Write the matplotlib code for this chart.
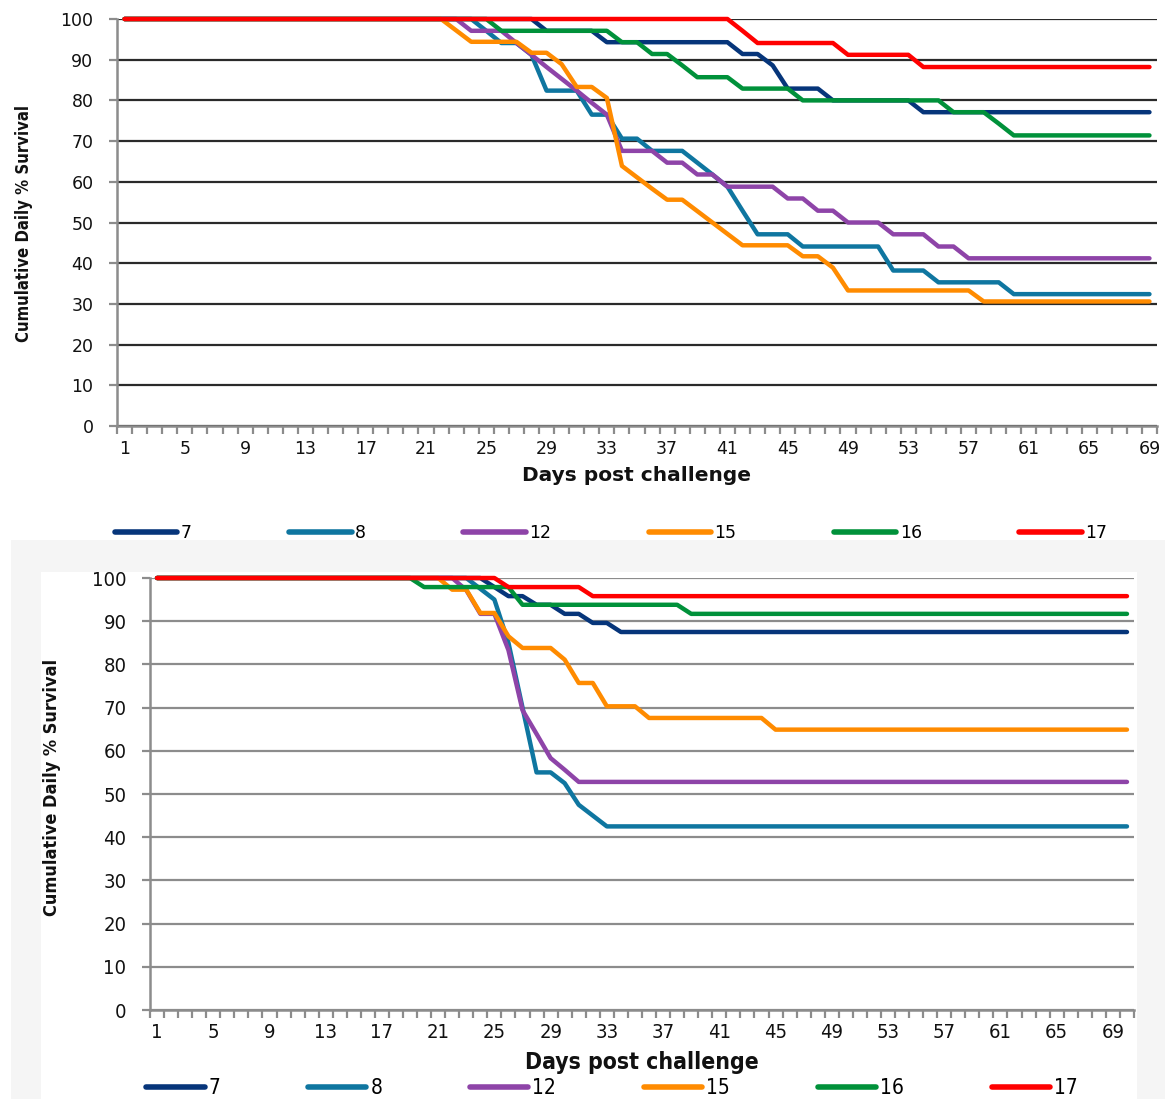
import matplotlib
matplotlib.use('Agg')
import matplotlib.pyplot as plt
from matplotlib.patches import Rectangle
from matplotlib.lines import Line2D

W, H = 1171, 1099
DPI = 100

groups = ['7', '8', '12', '15', '16', '17']
colors = ['#06357a', '#0f76a0', '#8e44a8', '#ff8b00', '#00913a', '#ff0000']

days_top = list(range(1, 70))
days_bot = list(range(1, 71))
tick_days = [1, 5, 9, 13, 17, 21, 25, 29, 33, 37, 41, 45, 49, 53, 57, 61, 65, 69]
tick_labels = [str(d) for d in tick_days]
y_ticks = [0, 10, 20, 30, 40, 50, 60, 70, 80, 90, 100]

# ---------------- top chart (69 days) ----------------
s7_top = [100, 100, 100, 100, 100, 100, 100, 100, 100, 100,
          100, 100, 100, 100, 100, 100, 100, 100, 100, 100,
          100, 100, 100, 100, 100, 100, 100, 100, 97.1, 97.1,
          97.1, 97.1, 94.3, 94.3, 94.3, 94.3, 94.3, 94.3, 94.3, 94.3,
          94.3, 91.4, 91.4, 88.6, 82.9, 82.9, 82.9, 80.0, 80.0, 80.0,
          80.0, 80.0, 80.0, 77.1, 77.1, 77.1, 77.1, 77.1, 77.1, 77.1,
          77.1, 77.1, 77.1, 77.1, 77.1, 77.1, 77.1, 77.1, 77.1]
s8_top = [100, 100, 100, 100, 100, 100, 100, 100, 100, 100,
          100, 100, 100, 100, 100, 100, 100, 100, 100, 100,
          100, 100, 100, 100, 97.1, 94.1, 94.1, 91.2, 82.4, 82.4,
          82.4, 76.5, 76.5, 70.6, 70.6, 67.6, 67.6, 67.6, 64.7, 61.8,
          58.8, 52.9, 47.1, 47.1, 47.1, 44.1, 44.1, 44.1, 44.1, 44.1,
          44.1, 38.2, 38.2, 38.2, 35.3, 35.3, 35.3, 35.3, 35.3, 32.4,
          32.4, 32.4, 32.4, 32.4, 32.4, 32.4, 32.4, 32.4, 32.4]
s12_top = [100, 100, 100, 100, 100, 100, 100, 100, 100, 100,
           100, 100, 100, 100, 100, 100, 100, 100, 100, 100,
           100, 100, 100, 97.1, 97.1, 97.1, 94.1, 91.2, 88.2, 85.3,
           82.4, 79.4, 76.5, 67.6, 67.6, 67.6, 64.7, 64.7, 61.8, 61.8,
           58.8, 58.8, 58.8, 58.8, 55.9, 55.9, 52.9, 52.9, 50.0, 50.0,
           50.0, 47.1, 47.1, 47.1, 44.1, 44.1, 41.2, 41.2, 41.2, 41.2,
           41.2, 41.2, 41.2, 41.2, 41.2, 41.2, 41.2, 41.2, 41.2]
s15_top = [100, 100, 100, 100, 100, 100, 100, 100, 100, 100,
           100, 100, 100, 100, 100, 100, 100, 100, 100, 100,
           100, 100, 97.2, 94.4, 94.4, 94.4, 94.4, 91.7, 91.7, 88.9,
           83.3, 83.3, 80.6, 63.9, 61.1, 58.3, 55.6, 55.6, 52.8, 50.0,
           47.2, 44.4, 44.4, 44.4, 44.4, 41.7, 41.7, 38.9, 33.3, 33.3,
           33.3, 33.3, 33.3, 33.3, 33.3, 33.3, 33.3, 30.6, 30.6, 30.6,
           30.6, 30.6, 30.6, 30.6, 30.6, 30.6, 30.6, 30.6, 30.6]
s16_top = [100, 100, 100, 100, 100, 100, 100, 100, 100, 100,
           100, 100, 100, 100, 100, 100, 100, 100, 100, 100,
           100, 100, 100, 100, 100, 97.1, 97.1, 97.1, 97.1, 97.1,
           97.1, 97.1, 97.1, 94.3, 94.3, 91.4, 91.4, 88.6, 85.7, 85.7,
           85.7, 82.9, 82.9, 82.9, 82.9, 80.0, 80.0, 80.0, 80.0, 80.0,
           80.0, 80.0, 80.0, 80.0, 80.0, 77.1, 77.1, 77.1, 74.3, 71.4,
           71.4, 71.4, 71.4, 71.4, 71.4, 71.4, 71.4, 71.4, 71.4]
s17_top = [100, 100, 100, 100, 100, 100, 100, 100, 100, 100,
           100, 100, 100, 100, 100, 100, 100, 100, 100, 100,
           100, 100, 100, 100, 100, 100, 100, 100, 100, 100,
           100, 100, 100, 100, 100, 100, 100, 100, 100, 100,
           100, 97.1, 94.1, 94.1, 94.1, 94.1, 94.1, 94.1, 91.2, 91.2,
           91.2, 91.2, 91.2, 88.2, 88.2, 88.2, 88.2, 88.2, 88.2, 88.2,
           88.2, 88.2, 88.2, 88.2, 88.2, 88.2, 88.2, 88.2, 88.2]

# ---------------- bottom chart (70 days) ----------------
s7_bot = [100, 100, 100, 100, 100, 100, 100, 100, 100, 100,
          100, 100, 100, 100, 100, 100, 100, 100, 100, 100,
          100, 100, 100, 100, 97.9, 95.8, 95.8, 93.8, 93.8, 91.7,
          91.7, 89.6, 89.6, 87.5, 87.5, 87.5, 87.5, 87.5, 87.5, 87.5,
          87.5, 87.5, 87.5, 87.5, 87.5, 87.5, 87.5, 87.5, 87.5, 87.5,
          87.5, 87.5, 87.5, 87.5, 87.5, 87.5, 87.5, 87.5, 87.5, 87.5,
          87.5, 87.5, 87.5, 87.5, 87.5, 87.5, 87.5, 87.5, 87.5, 87.5]
s8_bot = [100, 100, 100, 100, 100, 100, 100, 100, 100, 100,
          100, 100, 100, 100, 100, 100, 100, 100, 100, 100,
          100, 100, 100, 97.5, 95.0, 85.0, 70.0, 55.0, 55.0, 52.5,
          47.5, 45.0, 42.5, 42.5, 42.5, 42.5, 42.5, 42.5, 42.5, 42.5,
          42.5, 42.5, 42.5, 42.5, 42.5, 42.5, 42.5, 42.5, 42.5, 42.5,
          42.5, 42.5, 42.5, 42.5, 42.5, 42.5, 42.5, 42.5, 42.5, 42.5,
          42.5, 42.5, 42.5, 42.5, 42.5, 42.5, 42.5, 42.5, 42.5, 42.5]
s12_bot = [100, 100, 100, 100, 100, 100, 100, 100, 100, 100,
           100, 100, 100, 100, 100, 100, 100, 100, 100, 100,
           100, 100, 97.2, 91.7, 91.7, 83.3, 69.4, 63.9, 58.3, 55.6,
           52.8, 52.8, 52.8, 52.8, 52.8, 52.8, 52.8, 52.8, 52.8, 52.8,
           52.8, 52.8, 52.8, 52.8, 52.8, 52.8, 52.8, 52.8, 52.8, 52.8,
           52.8, 52.8, 52.8, 52.8, 52.8, 52.8, 52.8, 52.8, 52.8, 52.8,
           52.8, 52.8, 52.8, 52.8, 52.8, 52.8, 52.8, 52.8, 52.8, 52.8]
s15_bot = [100, 100, 100, 100, 100, 100, 100, 100, 100, 100,
           100, 100, 100, 100, 100, 100, 100, 100, 100, 100,
           100, 97.3, 97.3, 91.9, 91.9, 86.5, 83.8, 83.8, 83.8, 81.1,
           75.7, 75.7, 70.3, 70.3, 70.3, 67.6, 67.6, 67.6, 67.6, 67.6,
           67.6, 67.6, 67.6, 67.6, 64.9, 64.9, 64.9, 64.9, 64.9, 64.9,
           64.9, 64.9, 64.9, 64.9, 64.9, 64.9, 64.9, 64.9, 64.9, 64.9,
           64.9, 64.9, 64.9, 64.9, 64.9, 64.9, 64.9, 64.9, 64.9, 64.9]
s16_bot = [100, 100, 100, 100, 100, 100, 100, 100, 100, 100,
           100, 100, 100, 100, 100, 100, 100, 100, 100, 97.9,
           97.9, 97.9, 97.9, 97.9, 97.9, 97.9, 93.8, 93.8, 93.8, 93.8,
           93.8, 93.8, 93.8, 93.8, 93.8, 93.8, 93.8, 93.8, 91.7, 91.7,
           91.7, 91.7, 91.7, 91.7, 91.7, 91.7, 91.7, 91.7, 91.7, 91.7,
           91.7, 91.7, 91.7, 91.7, 91.7, 91.7, 91.7, 91.7, 91.7, 91.7,
           91.7, 91.7, 91.7, 91.7, 91.7, 91.7, 91.7, 91.7, 91.7, 91.7]
s17_bot = [100, 100, 100, 100, 100, 100, 100, 100, 100, 100,
           100, 100, 100, 100, 100, 100, 100, 100, 100, 100,
           100, 100, 100, 100, 100, 97.9, 97.9, 97.9, 97.9, 97.9,
           97.9, 95.8, 95.8, 95.8, 95.8, 95.8, 95.8, 95.8, 95.8, 95.8,
           95.8, 95.8, 95.8, 95.8, 95.8, 95.8, 95.8, 95.8, 95.8, 95.8,
           95.8, 95.8, 95.8, 95.8, 95.8, 95.8, 95.8, 95.8, 95.8, 95.8,
           95.8, 95.8, 95.8, 95.8, 95.8, 95.8, 95.8, 95.8, 95.8, 95.8]

top_series = [s7_top, s8_top, s12_top, s15_top, s16_top, s17_top]
bot_series = [s7_bot, s8_bot, s12_bot, s15_bot, s16_bot, s17_bot]

NARROW_BOLD = dict(family='DejaVu Sans', fontstretch='condensed',
                   fontweight='bold')

fig = plt.figure(figsize=(W / DPI, H / DPI), dpi=DPI)
fig.patch.set_facecolor('white')


def rect_px(x0, y0, x1, y1):
    return [x0 / W, 1 - y1 / H, (x1 - x0) / W, (y1 - y0) / H]


def style_axes(ax, days, grid_color, fs, xpad, ypad, stretch):
    n = len(days)
    ax.set_xlim(0.5, n + 0.5)
    ax.set_ylim(0, 100)
    ax.set_yticks(y_ticks)
    ax.set_yticklabels([str(v) for v in y_ticks])
    ax.set_xticks(tick_days)
    ax.set_xticklabels(tick_labels)
    ax.set_xticks([d - 0.5 for d in days] + [n + 0.5], minor=True)
    ax.yaxis.grid(True, color=grid_color, lw=1.6)
    ax.set_axisbelow(True)
    for s in ['top', 'right']:
        ax.spines[s].set_visible(False)
    for s in ['left', 'bottom']:
        ax.spines[s].set_color('#8c8c8c')
        ax.spines[s].set_linewidth(1.8)
    ax.tick_params(axis='x', which='major', length=0, pad=xpad)
    ax.tick_params(axis='x', which='minor', length=6, width=1.6,
                   color='#8c8c8c', direction='out')
    ax.tick_params(axis='y', which='major', length=6, width=1.6,
                   color='#8c8c8c', direction='out', pad=ypad)
    for lab in ax.get_xticklabels() + ax.get_yticklabels():
        lab.set_family('DejaVu Sans')
        lab.set_fontstretch(stretch)
        lab.set_fontsize(fs)
        lab.set_color('#111111')


# ---- top axes ----
ax1 = fig.add_axes(rect_px(117, 19, 1157, 426))
ax1.set_zorder(0)
style_axes(ax1, days_top, '#2a2a2a', 12.5, 10, 11, 'normal')
for vals, c in zip(top_series, colors):
    ax1.plot(days_top, vals, color=c, lw=3.2, solid_capstyle='round',
             solid_joinstyle='round', clip_on=False, zorder=3)

fig.text(24 / W, 1 - 223 / H, 'Cumulative Daily % Survival', rotation=90,
         ha='center', va='center', fontsize=12, color='#111111',
         zorder=1, **NARROW_BOLD)
fig.text(636 / W, 1 - 475 / H, 'Days post challenge', ha='center',
         va='center', family='DejaVu Sans', fontweight='bold',
         fontsize=14.5, color='#111111', zorder=1)

handles = [Line2D([0], [0], color=c, lw=4, solid_capstyle='round')
           for c in colors]
leg1 = fig.legend(handles, groups, ncol=6, loc='center',
                  bbox_to_anchor=(611 / W, 1 - 533 / H),
                  bbox_transform=fig.transFigure, frameon=False,
                  handlelength=3.6, handletextpad=0.2, columnspacing=5.6,
                  prop={'family': 'DejaVu Sans', 'size': 12.5})
leg1.set_zorder(1)

# ---- bottom panel background ----
fig.add_artist(Rectangle((11 / W, 0), 1154 / W, 559 / H,
                         transform=fig.transFigure, facecolor='#f5f5f5',
                         edgecolor='none', zorder=2))
fig.add_artist(Rectangle((41 / W, 0), 1096 / W, 527 / H,
                         transform=fig.transFigure, facecolor='white',
                         edgecolor='none', zorder=2.1))

# ---- bottom axes ----
ax2 = fig.add_axes(rect_px(150, 578, 1134, 1010))
ax2.set_zorder(3)
style_axes(ax2, days_bot, '#8c8c8c', 14.5, 9, 11, 'condensed')
for vals, c in zip(bot_series, colors):
    ax2.plot(days_bot, vals, color=c, lw=3.2, solid_capstyle='round',
             solid_joinstyle='round', clip_on=False, zorder=3)

fig.text(52 / W, 1 - 787 / H, 'Cumulative Daily % Survival', rotation=90,
         ha='center', va='center', fontsize=13, color='#111111',
         zorder=4, **NARROW_BOLD)
fig.text(642 / W, 1 - 1062 / H, 'Days post challenge', ha='center',
         va='center', fontsize=16.5, color='#111111', zorder=4,
         **NARROW_BOLD)

leg2 = fig.legend(handles, groups, ncol=6, loc='center',
                  bbox_to_anchor=(612 / W, 1 - 1088 / H),
                  bbox_transform=fig.transFigure, frameon=False,
                  handlelength=2.8, handletextpad=0.2, columnspacing=4.2,
                  prop={'family': 'DejaVu Sans', 'stretch': 'condensed',
                        'size': 15})
leg2.set_zorder(5)

fig.savefig('out.png', dpi=DPI, facecolor='white')
